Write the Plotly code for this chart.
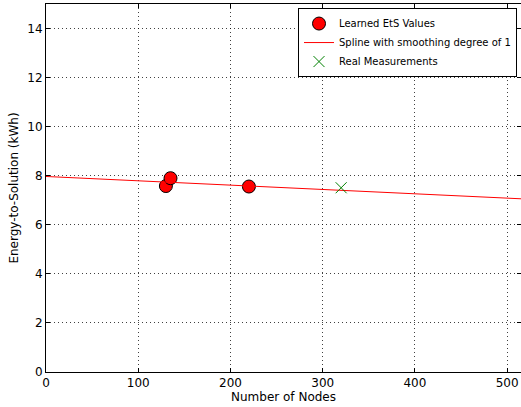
import plotly.graph_objects as go

# Data
learned_nodes = [130, 135, 220]
learned_ets = [7.58, 7.9, 7.56]
spline_nodes = [0, 515]
spline_ets = [7.97, 7.06]
real_nodes = [320]
real_ets = [7.51]
x_ticks = [0, 100, 200, 300, 400, 500]
y_ticks = [0, 2, 4, 6, 8, 10, 12, 14]

fig = go.Figure()
fig.add_trace(go.Scatter(
    x=learned_nodes, y=learned_ets, mode="markers", name="Learned EtS Values",
    marker=dict(symbol="circle", size=13, color="red", line=dict(color="black", width=1)),
))
fig.add_trace(go.Scatter(
    x=spline_nodes, y=spline_ets, mode="lines", name="Spline with smoothing degree of 1",
    line=dict(color="red", width=1),
))
fig.add_trace(go.Scatter(
    x=real_nodes, y=real_ets, mode="markers", name="Real Measurements",
    marker=dict(symbol="x-thin-open", size=11, color="#008000", line=dict(color="#008000", width=1)),
))

axis_common = dict(
    showline=True, linecolor="black", linewidth=1, mirror="ticks",
    ticks="inside", ticklen=4, tickcolor="black", tickwidth=1,
    showgrid=True, gridcolor="rgba(0,0,0,0.75)", griddash="1px,3px", gridwidth=1,
    zeroline=False, tickfont=dict(family="DejaVu Sans", size=12, color="black"),
)

fig.update_layout(
    width=521, height=407,
    margin=dict(l=46, r=0, t=4, b=35),
    paper_bgcolor="white", plot_bgcolor="white",
    font=dict(family="DejaVu Sans", size=12, color="black"),
    xaxis=dict(range=[0, 515], tickvals=x_ticks,
               title=dict(text="Number of Nodes", standoff=2, font=dict(size=12)),
               **axis_common),
    yaxis=dict(range=[0, 15], tickvals=y_ticks,
               title=dict(text="Energy-to-Solution (kWh)", standoff=6, font=dict(size=12)),
               **axis_common),
    legend=dict(
        x=0.9916, y=0.989, xanchor="right", yanchor="top",
        bordercolor="black", borderwidth=1, bgcolor="white",
        font=dict(family="DejaVu Sans", size=10, color="black"),
        tracegroupgap=0, itemwidth=30,
    ),
    showlegend=True,
)

fig.write_html("out.html")
